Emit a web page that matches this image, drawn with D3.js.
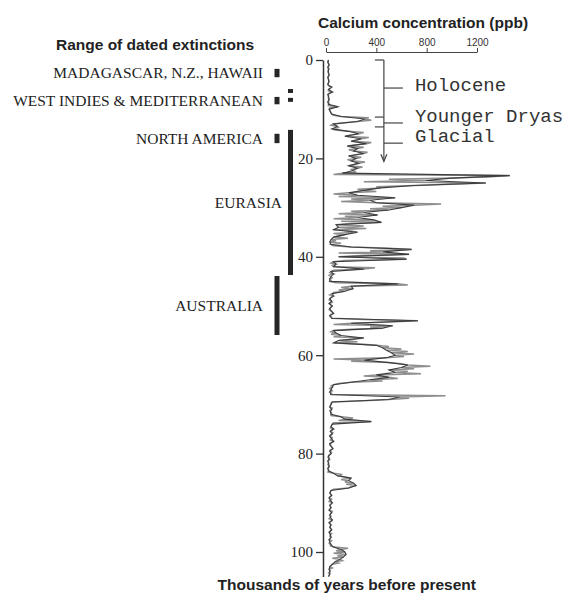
<!DOCTYPE html>
<html><head><meta charset="utf-8">
<script src="https://cdn.jsdelivr.net/npm/d3@7"></script>
<style>body{margin:0;background:#fff}</style>
</head><body>
<svg id="c" width="570" height="593"></svg>
<script>
// Calcium concentration (ppb), dark trace sampled every 0.5 kyr from 0 to 105 kyr BP
const ageStep = 0.5;
const caDark = [
  20,15,25,15,20,18,25,15,20,22,
  15,45,20,50,15,20,25,15,20,95,
  25,35,45,120,310,250,60,90,50,180,
  260,150,280,200,320,170,250,220,300,180,
  240,200,260,180,250,210,130,1460,1000,790,
  1270,700,435,300,180,250,550,350,400,700,
  600,500,300,410,250,380,440,80,100,60,
  250,150,60,40,30,40,200,680,450,660,
  100,640,60,80,60,300,40,60,40,30,
  30,570,200,215,150,50,60,30,45,25,
  50,30,40,60,30,45,730,200,530,450,
  60,80,120,300,100,60,400,450,480,520,
  550,480,300,500,650,600,500,550,400,500,
  350,200,60,50,40,30,40,590,500,50,
  40,30,45,35,40,120,150,360,50,40,
  60,35,50,30,45,60,30,40,55,30,
  40,20,25,15,20,25,15,20,60,90,
  200,180,220,240,180,40,30,45,25,35,
  50,30,40,25,45,30,35,50,25,40,
  30,45,25,35,40,25,30,40,60,120,
  150,160,140,110,70,50,30,25,30,30,
  20
];
// lighter trace, samples offset by 0.25 kyr
const caLight = [
  15,22,18,25,15,20,22,18,25,15,
  20,30,18,25,20,18,22,25,18,30,
  30,40,60,340,360,150,40,100,70,300,
  200,340,250,360,230,300,180,330,240,280,
  170,310,220,290,200,240,60,1310,500,300,
  990,400,250,400,60,100,200,120,915,450,
  350,200,100,150,60,120,200,300,320,200,
  60,100,175,80,120,60,500,350,100,300,
  620,150,40,50,390,60,30,25,50,40,
  80,650,120,100,60,30,40,25,50,35,
  40,25,50,35,45,300,500,60,350,200,
  40,40,60,220,250,300,500,600,650,700,
  620,60,200,600,830,700,650,755,300,570,
  450,100,40,30,50,45,950,660,300,40,
  35,50,30,45,40,215,100,60,45,35,
  40,55,30,50,35,45,30,50,35,45,
  25,15,30,20,15,25,20,15,130,150,
  120,150,160,200,60,35,40,30,45,25,
  40,35,30,50,35,40,25,45,30,35,
  40,30,45,30,35,45,25,35,175,80,
  60,90,50,130,100,40,50,35,20,25
];
const xTicks = [0, 400, 800, 1200];
const yTicks = [0, 20, 40, 60, 80, 100];

// dated extinction ranges (kyr BP)
const extNames  = ["MADAGASCAR, N.Z., HAWAII", "WEST INDIES & MEDITERRANEAN", "NORTH AMERICA", "EURASIA", "AUSTRALIA"];
const extStart  = [1.8, 7.5, 15.0, 14.2, 43.9];
const extEnd    = [3.5, 9.0, 16.9, 43.7, 55.9];
const extColumn = [0, 0, 0, 1, 0];
// small unlabelled ranges (Mediterranean islands)
const extraStart = [5.9, 7.7];
const extraEnd   = [6.7, 8.5];

// climate periods annotation
const periodNames    = ["Holocene", "Younger Dryas", "Glacial"];
const periodLineAge  = [5.7, 12.8, 16.9];
const periodTextAge  = [6.3, 12.6, 16.65];
const ydBounds = [11.6, 13.6];
const bracketEnd = 20.6;

const svg = d3.select("#c");
const y = d3.scaleLinear().domain([0, 105]).range([60, 576.6]);
const x = d3.scaleLinear().domain([0, 1200]).range([326, 477]);

const SANS = "'Liberation Sans', Arial, sans-serif";
const SERIF = "'Liberation Serif', 'Times New Roman', serif";
const MONO = "'Liberation Mono', 'Courier New', monospace";

// titles
svg.append("text").attr("x", 423).attr("y", 28).attr("text-anchor", "middle")
  .style("font-family", SANS).style("font-weight", "bold").style("font-size", "15.5px").attr("fill", "#222")
  .text("Calcium concentration (ppb)");
svg.append("text").attr("x", 155).attr("y", 50).attr("text-anchor", "middle")
  .style("font-family", SANS).style("font-weight", "bold").style("font-size", "15.5px").attr("fill", "#222")
  .text("Range of dated extinctions");
svg.append("text").attr("x", 476).attr("y", 590).attr("text-anchor", "end")
  .style("font-family", SANS).style("font-weight", "bold").style("font-size", "15.5px").attr("fill", "#222")
  .text("Thousands of years before present");

// top axis
const gx = svg.append("g").attr("transform", "translate(0,52)")
  .call(d3.axisTop(x).tickValues(xTicks).tickSize(4).tickSizeOuter(0).tickPadding(2).tickFormat(d3.format("d")));
gx.select(".domain").attr("stroke", "#444").attr("stroke-width", 1);
gx.selectAll(".tick line").attr("stroke", "#444");
gx.selectAll("text").style("font-family", SANS).style("font-size", "10px").attr("fill", "#333");

// left axis
const gy = svg.append("g").attr("transform", "translate(323,0)")
  .call(d3.axisLeft(y).tickValues(yTicks).tickSize(7).tickSizeOuter(0).tickPadding(3));
gy.select(".domain").attr("stroke", "#333").attr("stroke-width", 1.5);
gy.selectAll(".tick line").attr("stroke", "#333").attr("stroke-width", 1.3);
gy.selectAll("text").style("font-family", SERIF).style("font-size", "15px").attr("fill", "#222");

// data traces
const darkPts = caDark.map((v, i) => ({age: i * ageStep, v}));
const lightPts = caLight.map((v, i) => ({age: (i + 0.5) * ageStep, v}));
const merged = darkPts.concat(lightPts).sort((a, b) => a.age - b.age);
const line = d3.line().x(d => x(d.v)).y(d => y(d.age));
svg.append("path").datum(merged).attr("d", line)
  .attr("fill", "none").attr("stroke", "#8e8e8e").attr("stroke-width", 1.5).attr("stroke-linejoin", "miter");
svg.append("path").datum(darkPts).attr("d", line)
  .attr("fill", "none").attr("stroke", "#3c3c3c").attr("stroke-width", 1.1);

// extinction bars
const colX = [277, 290.5];
const colW = [5, 5];
const labelEnd = [263, 282];
extNames.forEach((name, i) => {
  const c = extColumn[i];
  svg.append("rect").attr("x", colX[c] - colW[c] / 2).attr("width", colW[c])
    .attr("y", y(extStart[i])).attr("height", y(extEnd[i]) - y(extStart[i]))
    .attr("fill", "#262626");
  svg.append("text").attr("x", labelEnd[c]).attr("y", (y(extStart[i]) + y(extEnd[i])) / 2)
    .attr("dy", "0.35em").attr("text-anchor", "end")
    .style("font-family", SERIF).style("font-size", "15.5px").attr("fill", "#222")
    .text(name);
});
extraStart.forEach((s, i) => {
  svg.append("rect").attr("x", colX[1] - 2.5).attr("width", 5)
    .attr("y", y(s)).attr("height", y(extraEnd[i]) - y(s)).attr("fill", "#262626");
});

// period bracket
const bx = x(460);
const ann = svg.append("g").attr("stroke", "#444").attr("stroke-width", 1.2).attr("fill", "none");
ann.append("line").attr("x1", bx).attr("x2", bx).attr("y1", y(0)).attr("y2", y(bracketEnd));
ann.append("line").attr("x1", bx - 9).attr("x2", bx).attr("y1", y(0)).attr("y2", y(0));
ydBounds.forEach(a => ann.append("line").attr("x1", bx - 9).attr("x2", bx).attr("y1", y(a)).attr("y2", y(a)));
ann.append("path").attr("d", `M${bx - 3},${y(bracketEnd) - 7}L${bx},${y(bracketEnd)}L${bx + 3},${y(bracketEnd) - 7}`);
periodNames.forEach((n, i) => {
  ann.append("line").attr("x1", bx).attr("x2", bx + 19).attr("y1", y(periodLineAge[i])).attr("y2", y(periodLineAge[i]));
  svg.append("text").attr("x", bx + 31).attr("y", y(periodTextAge[i]))
    .style("font-family", MONO).style("font-size", "19px").attr("fill", "#333")
    .text(n);
});
</script>
</body></html>
